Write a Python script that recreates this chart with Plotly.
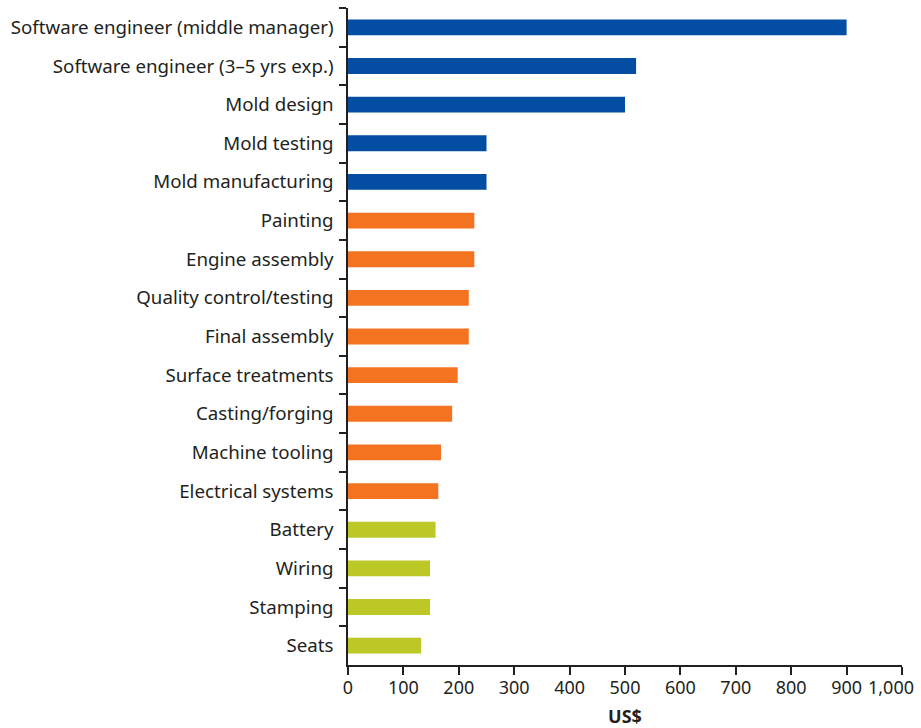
import plotly.graph_objects as go

categories = [
    "Software engineer (middle manager)",
    "Software engineer (3–5 yrs exp.)",
    "Mold design",
    "Mold testing",
    "Mold manufacturing",
    "Painting",
    "Engine assembly",
    "Quality control/testing",
    "Final assembly",
    "Surface treatments",
    "Casting/forging",
    "Machine tooling",
    "Electrical systems",
    "Battery",
    "Wiring",
    "Stamping",
    "Seats",
]
values = [900, 520, 500, 250, 250, 228, 228, 218, 218, 198, 188, 168, 163, 158, 148, 148, 132]
groups = ["blue"] * 5 + ["orange"] * 8 + ["green"] * 4
group_colors = {"blue": "#034EA2", "orange": "#F47321", "green": "#BBC826"}
colors = [group_colors[g] for g in groups]

x_ticks = list(range(0, 1001, 100))
x_tick_labels = ["0", "100", "200", "300", "400", "500", "600", "700", "800", "900", "1,000"]

font_family = "Noto Sans"

fig = go.Figure(
    go.Bar(
        x=values,
        y=categories,
        orientation="h",
        marker=dict(color=colors, line=dict(width=0)),
        width=0.41,
    )
)

fig.update_layout(
    width=921,
    height=728,
    margin=dict(l=348, r=19, t=8, b=63),
    plot_bgcolor="white",
    paper_bgcolor="white",
    showlegend=False,
    font=dict(family=font_family, size=18, color="#231F20"),
)

# last tick label is drawn as an annotation so it can sit flush with the edge
fig.update_xaxes(
    range=[0, 1000],
    tickvals=x_ticks,
    ticktext=x_tick_labels[:-1] + [""],
    showgrid=False,
    zeroline=False,
    showline=True,
    linecolor="#231F20",
    linewidth=1.5,
    ticks="outside",
    ticklen=8,
    tickwidth=1.5,
    tickcolor="#231F20",
    tickfont=dict(size=18),
    ticklabelstandoff=-2,
    automargin=False,
    title=dict(text="<b>US$</b>", font=dict(size=18), standoff=13),
)
fig.add_annotation(
    x=x_ticks[-1], xref="x", y=0, yref="paper",
    text=x_tick_labels[-1], showarrow=False,
    xanchor="right", yanchor="top", xshift=14, yshift=-8,
    font=dict(size=18, family=font_family, color="#231F20"),
)

fig.update_yaxes(
    categoryorder="array",
    categoryarray=categories,
    autorange="reversed",
    showgrid=False,
    zeroline=False,
    showline=True,
    linecolor="#231F20",
    linewidth=1.5,
    ticks="outside",
    tickson="boundaries",
    ticklen=7,
    tickwidth=1.5,
    tickcolor="#231F20",
    tickfont=dict(size=18.7),
    ticklabelstandoff=9,
    automargin=False,
)

fig.write_html(
    "out.html",
    config={"displayModeBar": False},
    post_script="document.body.style.margin='0';document.body.style.overflow='hidden';",
)
